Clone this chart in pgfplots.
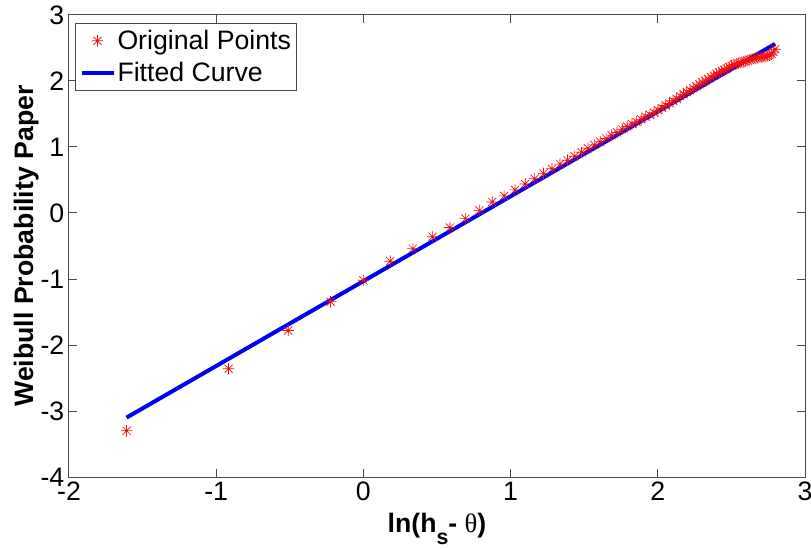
\documentclass[border=0pt]{standalone}
\usepackage{fontspec}
\setmainfont{Liberation Sans}
\newfontfamily\symfont{Liberation Serif}
\usepackage{pgfplots}
\pgfplotsset{compat=1.18}
\definecolor{axgray}{HTML}{4A4A4A}
\definecolor{ptred}{HTML}{F01010}
\definecolor{fitblue}{HTML}{0000F0}
\newcommand{\figfont}{\fontsize{20pt}{24pt}\selectfont}
% matlab style '*' marker: plus and cross together
\pgfdeclareplotmark{mstar}{%
  \pgfpathmoveto{\pgfqpoint{0pt}{\pgfplotmarksize}}\pgfpathlineto{\pgfqpoint{0pt}{-\pgfplotmarksize}}%
  \pgfpathmoveto{\pgfqpoint{\pgfplotmarksize}{0pt}}\pgfpathlineto{\pgfqpoint{-\pgfplotmarksize}{0pt}}%
  \pgfpathmoveto{\pgfqpoint{0.7071\pgfplotmarksize}{0.7071\pgfplotmarksize}}%
  \pgfpathlineto{\pgfqpoint{-0.7071\pgfplotmarksize}{-0.7071\pgfplotmarksize}}%
  \pgfpathmoveto{\pgfqpoint{-0.7071\pgfplotmarksize}{0.7071\pgfplotmarksize}}%
  \pgfpathlineto{\pgfqpoint{0.7071\pgfplotmarksize}{-0.7071\pgfplotmarksize}}%
  \pgfusepathqstroke}
\pgfplotsset{
  markleg/.style={legend image code/.code={\draw[##1] plot coordinates {(12pt,0pt)};}},
  lineleg/.style={legend image code/.code={\draw[##1] (0pt,0pt) -- (24pt,0pt);}},
}
\begin{document}
\begin{tikzpicture}
\begin{axis}[
  scale only axis, width=552pt, height=346.5pt,
  xmin=-2, xmax=3, ymin=-4, ymax=3,
  xtick={-2,-1,0,1,2,3}, ytick={-4,-3,-2,-1,0,1,2,3},
  tick align=inside, major tick length=6pt,
  axis line style={axgray, line width=0.75pt},
  tick style={axgray, line width=0.75pt},
  /pgf/number format/assume math mode=true,
  tick label style={font=\figfont},
  label style={font=\figfont\bfseries},
  xlabel={ln(h\raisebox{-8.5pt}{\fontsize{16pt}{16pt}\selectfont s}- {\symfont\mdseries θ})},
  ylabel={Weibull Probability Paper},
  xlabel style={at={(axis description cs:0.5,-0.1212)}, anchor=base, inner sep=0pt},
  ylabel style={at={(axis description cs:-0.0489,0.5)}, anchor=base, inner sep=0pt},
  legend style={at={(axis description cs:0,1)}, anchor=north west,
    xshift=4.5pt, yshift=-6pt, draw=axgray, line width=0.75pt, fill=white,
    inner xsep=3pt, inner ysep=1pt, font=\figfont,
    nodes={inner xsep=1.5pt, inner ysep=4pt}},
  legend cell align=left,
]
% Weibull plot points: x = ln(h_s - theta)
\addplot[only marks, mark=mstar, ptred, mark size=4.3pt, line width=0.5pt, markleg]
  coordinates {
  (-1.609,-3.30) (-0.916,-2.36) (-0.511,-1.78) (-0.223,-1.345) (0.000,-1.02)
  (0.182,-0.73) (0.336,-0.54) (0.470,-0.36) (0.588,-0.22) (0.693,-0.085)
  (0.788,0.04) (0.875,0.167) (0.956,0.26) (1.030,0.35) (1.099,0.44)
  (1.163,0.52) (1.224,0.60) (1.281,0.67) (1.335,0.74) (1.386,0.80)
  (1.435,0.86) (1.482,0.92) (1.526,0.98) (1.569,1.03) (1.609,1.08)
  (1.649,1.13) (1.686,1.18) (1.723,1.22) (1.758,1.27) (1.792,1.31)
  (1.825,1.35) (1.856,1.38) (1.887,1.42) (1.917,1.46) (1.946,1.49)
  (1.974,1.52) (2.001,1.56) (2.028,1.59) (2.054,1.63) (2.079,1.66)
  (2.104,1.70) (2.128,1.73) (2.152,1.77) (2.175,1.80) (2.197,1.83)
  (2.219,1.86) (2.241,1.89) (2.262,1.92) (2.282,1.95) (2.303,1.98)
  (2.322,2.00) (2.342,2.03) (2.361,2.06) (2.380,2.08) (2.398,2.11)
  (2.416,2.13) (2.434,2.15) (2.451,2.17) (2.468,2.19) (2.485,2.21)
  (2.501,2.23) (2.518,2.25) (2.534,2.26) (2.549,2.27) (2.565,2.28)
  (2.580,2.29) (2.595,2.30) (2.610,2.31) (2.625,2.32) (2.639,2.33)
  (2.653,2.34) (2.667,2.35) (2.681,2.35) (2.695,2.36) (2.708,2.36)
  (2.721,2.37) (2.734,2.37) (2.747,2.38) (2.760,2.39) (2.773,2.41)
  (2.785,2.44) (2.797,2.48)
  };
\addlegendentry{Original Points}
% least squares line
\addplot[fitblue, line width=3pt, lineleg]
  coordinates {(-1.609,-3.100) (2.797,2.562)};
\addlegendentry{Fitted Curve}
\end{axis}
% page margins as in the exported figure
\pgfresetboundingbox
\path[use as bounding box] ([xshift=-51.75pt,yshift=-54pt]current axis.south west)
  rectangle ([xshift=4.5pt,yshift=11.25pt]current axis.north east);
\end{tikzpicture}
\end{document}
